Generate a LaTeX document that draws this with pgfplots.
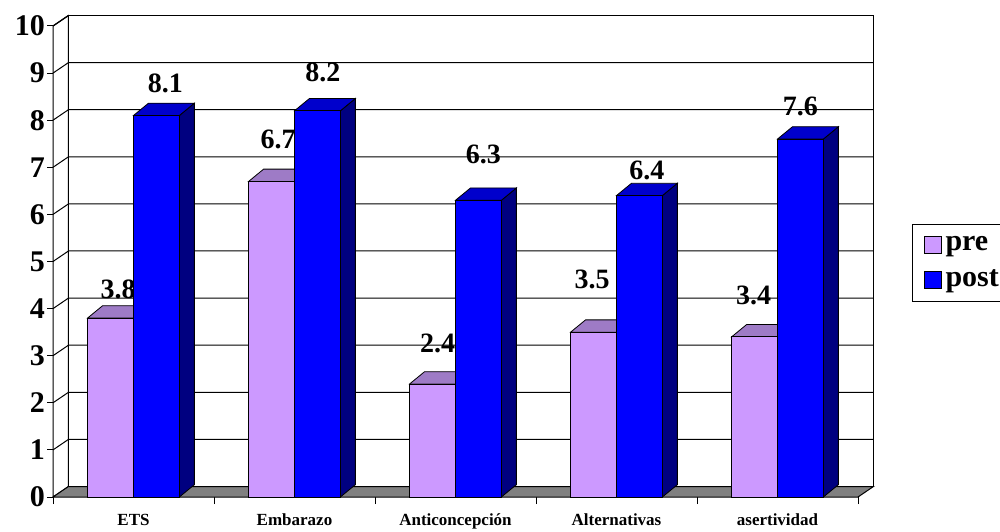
\documentclass[border=0pt]{standalone}
\usepackage{pgfplots}
\pgfplotsset{compat=1.18}
\usepackage{pgfplotstable}
\usepackage{fontspec}
\setmainfont{Liberation Serif}

\definecolor{prefront}{HTML}{CC99FF}
\definecolor{pretop}{HTML}{9E7BC6}
\definecolor{preside}{HTML}{7A5C99}
\definecolor{postfront}{HTML}{0000FF}
\definecolor{posttop}{HTML}{0000CC}
\definecolor{postside}{HTML}{000080}
\definecolor{floorgrey}{HTML}{808080}

% mean scores per topic; lx/ly shift each value label (pt)
\pgfplotstableread{
x  pre  post prelx prely postlx postly
0  3.8  8.1  3.75  3.0   4.5   5.0
1  6.7  8.2  3.25  10.0  2.75  8.0
2  2.4  6.3  2.5   9.0   2.5   12.0
3  3.5  6.4  -0.75 15.5  3.75  1.5
4  3.4  7.6  -0.5  9.5   0.0   5.0
}\scores

% depth of the 3-D effect, in axis units
\def\wdx{0.096}% walls and floor
\def\wdy{0.223}
\def\bdx{0.093}% columns
\def\bdy{0.261}
\def\bw{0.285}% column width (half of it is 11.47pt on the page)

% top and side faces of one column: #1 category, #2 column, #3 left edge offset, #4 top colour, #5 side colour
\newcommand\columnfaces[5]{%
  \pgfplotstablegetelem{#1}{#2}\of\scores
  \pgfmathsetmacro\cv{\pgfplotsretval}%
  \pgfmathsetmacro\xa{#1+#3}%
  \pgfmathsetmacro\xb{#1+#3+\bw}%
  \pgfmathsetmacro\xab{\xa+\bdx}%
  \pgfmathsetmacro\xbb{\xb+\bdx}%
  \pgfmathsetmacro\cvb{\cv+\bdy}%
  \edef\dofaces{%
    \noexpand\addplot[forget plot, fill=#5, draw=black, line width=0.4pt]
      coordinates {(\xb,0) (\xbb,\bdy) (\xbb,\cvb) (\xb,\cv)} -- cycle;
    \noexpand\addplot[forget plot, fill=#4, draw=black, line width=0.4pt]
      coordinates {(\xa,\cv) (\xb,\cv) (\xbb,\cvb) (\xab,\cvb)} -- cycle;
  }%
  \dofaces
}

\pgfplotsset{
  value labels/.style={
    nodes near coords={\pgfmathprintnumber[fixed,precision=1]{\pgfplotspointmeta}},
    every node near coord/.append style={font=\bfseries\fontsize{14}{16}\selectfont,
      inner sep=0pt, anchor=south},
  },
}

\begin{document}
\begin{tikzpicture}
\useasboundingbox (0,0) rectangle (500pt,265.5pt);
\begin{axis}[
  at={(26.5pt,17pt)}, anchor=south west,
  scale only axis, width=402.5pt, height=235.5pt,
  xmin=-0.5, xmax=4.5, ymin=0, ymax=10,
  clip=false, clip marker paths=true,
  axis x line=bottom, axis y line=left,
  axis line style={draw=none},
  /pgf/number format/assume math mode=true,
  ytick={0,...,10},
  xtick={0,...,4},
  xticklabels={ETS,Embarazo,Anticoncepción,Alternativas,asertividad},
  minor xtick={-0.5,0.5,...,4.5},
  tick align=outside,
  major tick length=3pt,
  minor tick length=3.5pt,
  major x tick style={draw=none},
  minor x tick style={draw=black, line width=0.5pt},
  ytick style={draw=black, line width=0.5pt},
  yticklabel style={font=\bfseries\fontsize{15}{18}\selectfont, xshift=2.5pt},
  xticklabel style={font=\bfseries\fontsize{8.5}{10}\selectfont, yshift=-2pt},
  legend style={at={(1.0671,0.5796)}, anchor=north west, draw=black,
    line width=0.5pt, font=\bfseries\fontsize{15}{17}\selectfont,
    row sep=4pt, inner xsep=5.5pt, inner ysep=4pt},
  legend cell align=left,
]
% back wall, side wall, grid and floor
\addplot[forget plot, fill=white, draw=black, line width=0.6pt]
  coordinates {({-0.5+\wdx},\wdy) ({4.5+\wdx},\wdy) ({4.5+\wdx},{10+\wdy}) ({-0.5+\wdx},{10+\wdy})} -- cycle;
\addplot[forget plot, fill=white, draw=black, line width=0.5pt]
  coordinates {(-0.5,0) ({-0.5+\wdx},\wdy) ({-0.5+\wdx},{10+\wdy}) (-0.5,10)} -- cycle;
\pgfplotsinvokeforeach{1,...,9}{
  \addplot[forget plot, draw=black, line width=0.5pt]
    coordinates {(-0.5,#1) ({-0.5+\wdx},{#1+\wdy}) ({4.5+\wdx},{#1+\wdy})};
}
\addplot[forget plot, draw=black, line width=0.6pt]
  coordinates {(-0.5,10) ({-0.5+\wdx},{10+\wdy})};
\addplot[forget plot, fill=floorgrey, draw=black, line width=0.5pt]
  coordinates {(-0.5,0) (4.5,0) ({4.5+\wdx},\wdy) ({-0.5+\wdx},\wdy)} -- cycle;

% pre
\pgfplotsinvokeforeach{0,...,4}{\columnfaces{#1}{pre}{-\bw}{pretop}{preside}}
\addplot[ybar, bar width=\bw, bar shift=-0.1425, fill=prefront, draw=black, line width=0.4pt,
  value labels,
  visualization depends on={\thisrow{prelx}\as\lx},
  visualization depends on={\thisrow{prely}\as\ly},
  every node near coord/.append style={xshift=\lx pt-11.47pt, yshift=\ly pt+6.15pt},
  legend image code/.code={\draw[fill=prefront,draw=black,line width=0.5pt] (0pt,-4.25pt) rectangle (8.5pt,4.25pt);}]
  table[x=x, y=pre] {\scores};
\addlegendentry{pre}

% post
\pgfplotsinvokeforeach{0,...,4}{\columnfaces{#1}{post}{0}{posttop}{postside}}
\addplot[ybar, bar width=\bw, bar shift=0.1425, fill=postfront, draw=black, line width=0.4pt,
  value labels,
  visualization depends on={\thisrow{postlx}\as\lx},
  visualization depends on={\thisrow{postly}\as\ly},
  every node near coord/.append style={xshift=\lx pt+11.47pt, yshift=\ly pt+6.15pt},
  legend image code/.code={\draw[fill=postfront,draw=black,line width=0.5pt] (0pt,-4.25pt) rectangle (8.5pt,4.25pt);}]
  table[x=x, y=post] {\scores};
\addlegendentry{post}
\end{axis}
\end{tikzpicture}
\end{document}
